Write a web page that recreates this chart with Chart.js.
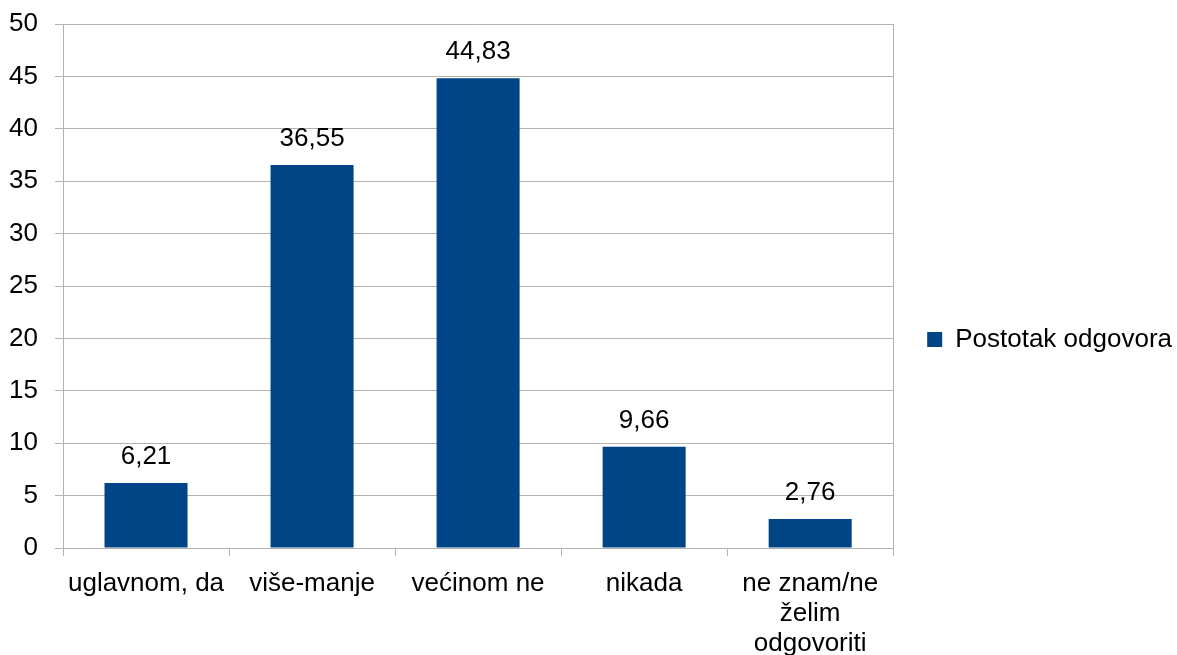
<!DOCTYPE html>
<html>
<head>
<meta charset="utf-8">
<script src="https://cdn.jsdelivr.net/npm/chart.js@4/dist/chart.umd.min.js"></script>
<style>
  html, body { margin: 0; padding: 0; background: #fff; }
  #wrap { width: 1177px; height: 655px; }
</style>
</head>
<body>
<div id="wrap"><canvas id="chart"></canvas></div>
<script>
const categories = ['uglavnom, da', 'više-manje', 'većinom ne', 'nikada', ['ne znam/ne', 'želim', 'odgovoriti']];
const values = [6.21, 36.55, 44.83, 9.66, 2.76];
const seriesName = 'Postotak odgovora';

const gridColor = '#b3b3b3';
const barColor = '#004586';
const fontFamily = '"Liberation Sans", Arial, sans-serif';
const fontSize = 26;

// value labels above each bar, comma as decimal separator
const valueLabels = {
    id: 'valueLabels',
    afterDatasetsDraw(chart) {
        const ctx = chart.ctx;
        const meta = chart.getDatasetMeta(0);
        ctx.save();
        ctx.font = fontSize + 'px ' + fontFamily;
        ctx.fillStyle = '#000';
        ctx.textAlign = 'center';
        ctx.textBaseline = 'middle';
        meta.data.forEach((bar, i) => {
            ctx.fillText(values[i].toFixed(2).replace('.', ','), bar.x, bar.y - 26);
        });
        ctx.restore();
    }
};

const ctx = document.getElementById('chart').getContext('2d');
const chart = new Chart(ctx, {
    type: 'bar',
    data: {
        labels: categories,
        datasets: [{
            label: seriesName,
            data: values,
            backgroundColor: barColor,
            borderWidth: 0,
            categoryPercentage: 1.0,
            barPercentage: 0.5
        }]
    },
    options: {
        responsive: true,
        maintainAspectRatio: false,
        animation: false,
        layout: { padding: { top: 24, left: 0, right: -5, bottom: 0 } },
        plugins: {
            legend: {
                position: 'right',
                labels: {
                    boxWidth: 15,
                    boxHeight: 15,
                    padding: 34,
                    color: '#000',
                    font: { size: fontSize, family: fontFamily }
                }
            },
            tooltip: { enabled: false }
        },
        scales: {
            x: {
                offset: true,
                afterFit(scale) { scale.height = 107; },
                grid: {
                    offset: true,
                    // only the outer boundaries reach up through the plot
                    color: (c) => (c.index === 0 || c.index === undefined) ? gridColor : 'rgba(0,0,0,0)',
                    tickColor: gridColor,
                    tickLength: 8
                },
                border: { color: gridColor },
                ticks: {
                    color: '#000',
                    padding: 13,
                    maxRotation: 0,
                    font: { size: fontSize, family: fontFamily, lineHeight: 30 / 26 }
                }
            },
            y: {
                min: 0,
                max: 50,
                afterFit(scale) {
                    scale.width = 63;
                    scale.paddingTop = 0;
                    scale.paddingBottom = 0;
                },
                ticks: {
                    stepSize: 5,
                    color: '#000',
                    padding: 17,
                    font: { size: fontSize, family: fontFamily }
                },
                grid: { color: gridColor, tickLength: 8 },
                border: { color: gridColor }
            }
        }
    },
    plugins: [valueLabels]
});
</script>
</body>
</html>
